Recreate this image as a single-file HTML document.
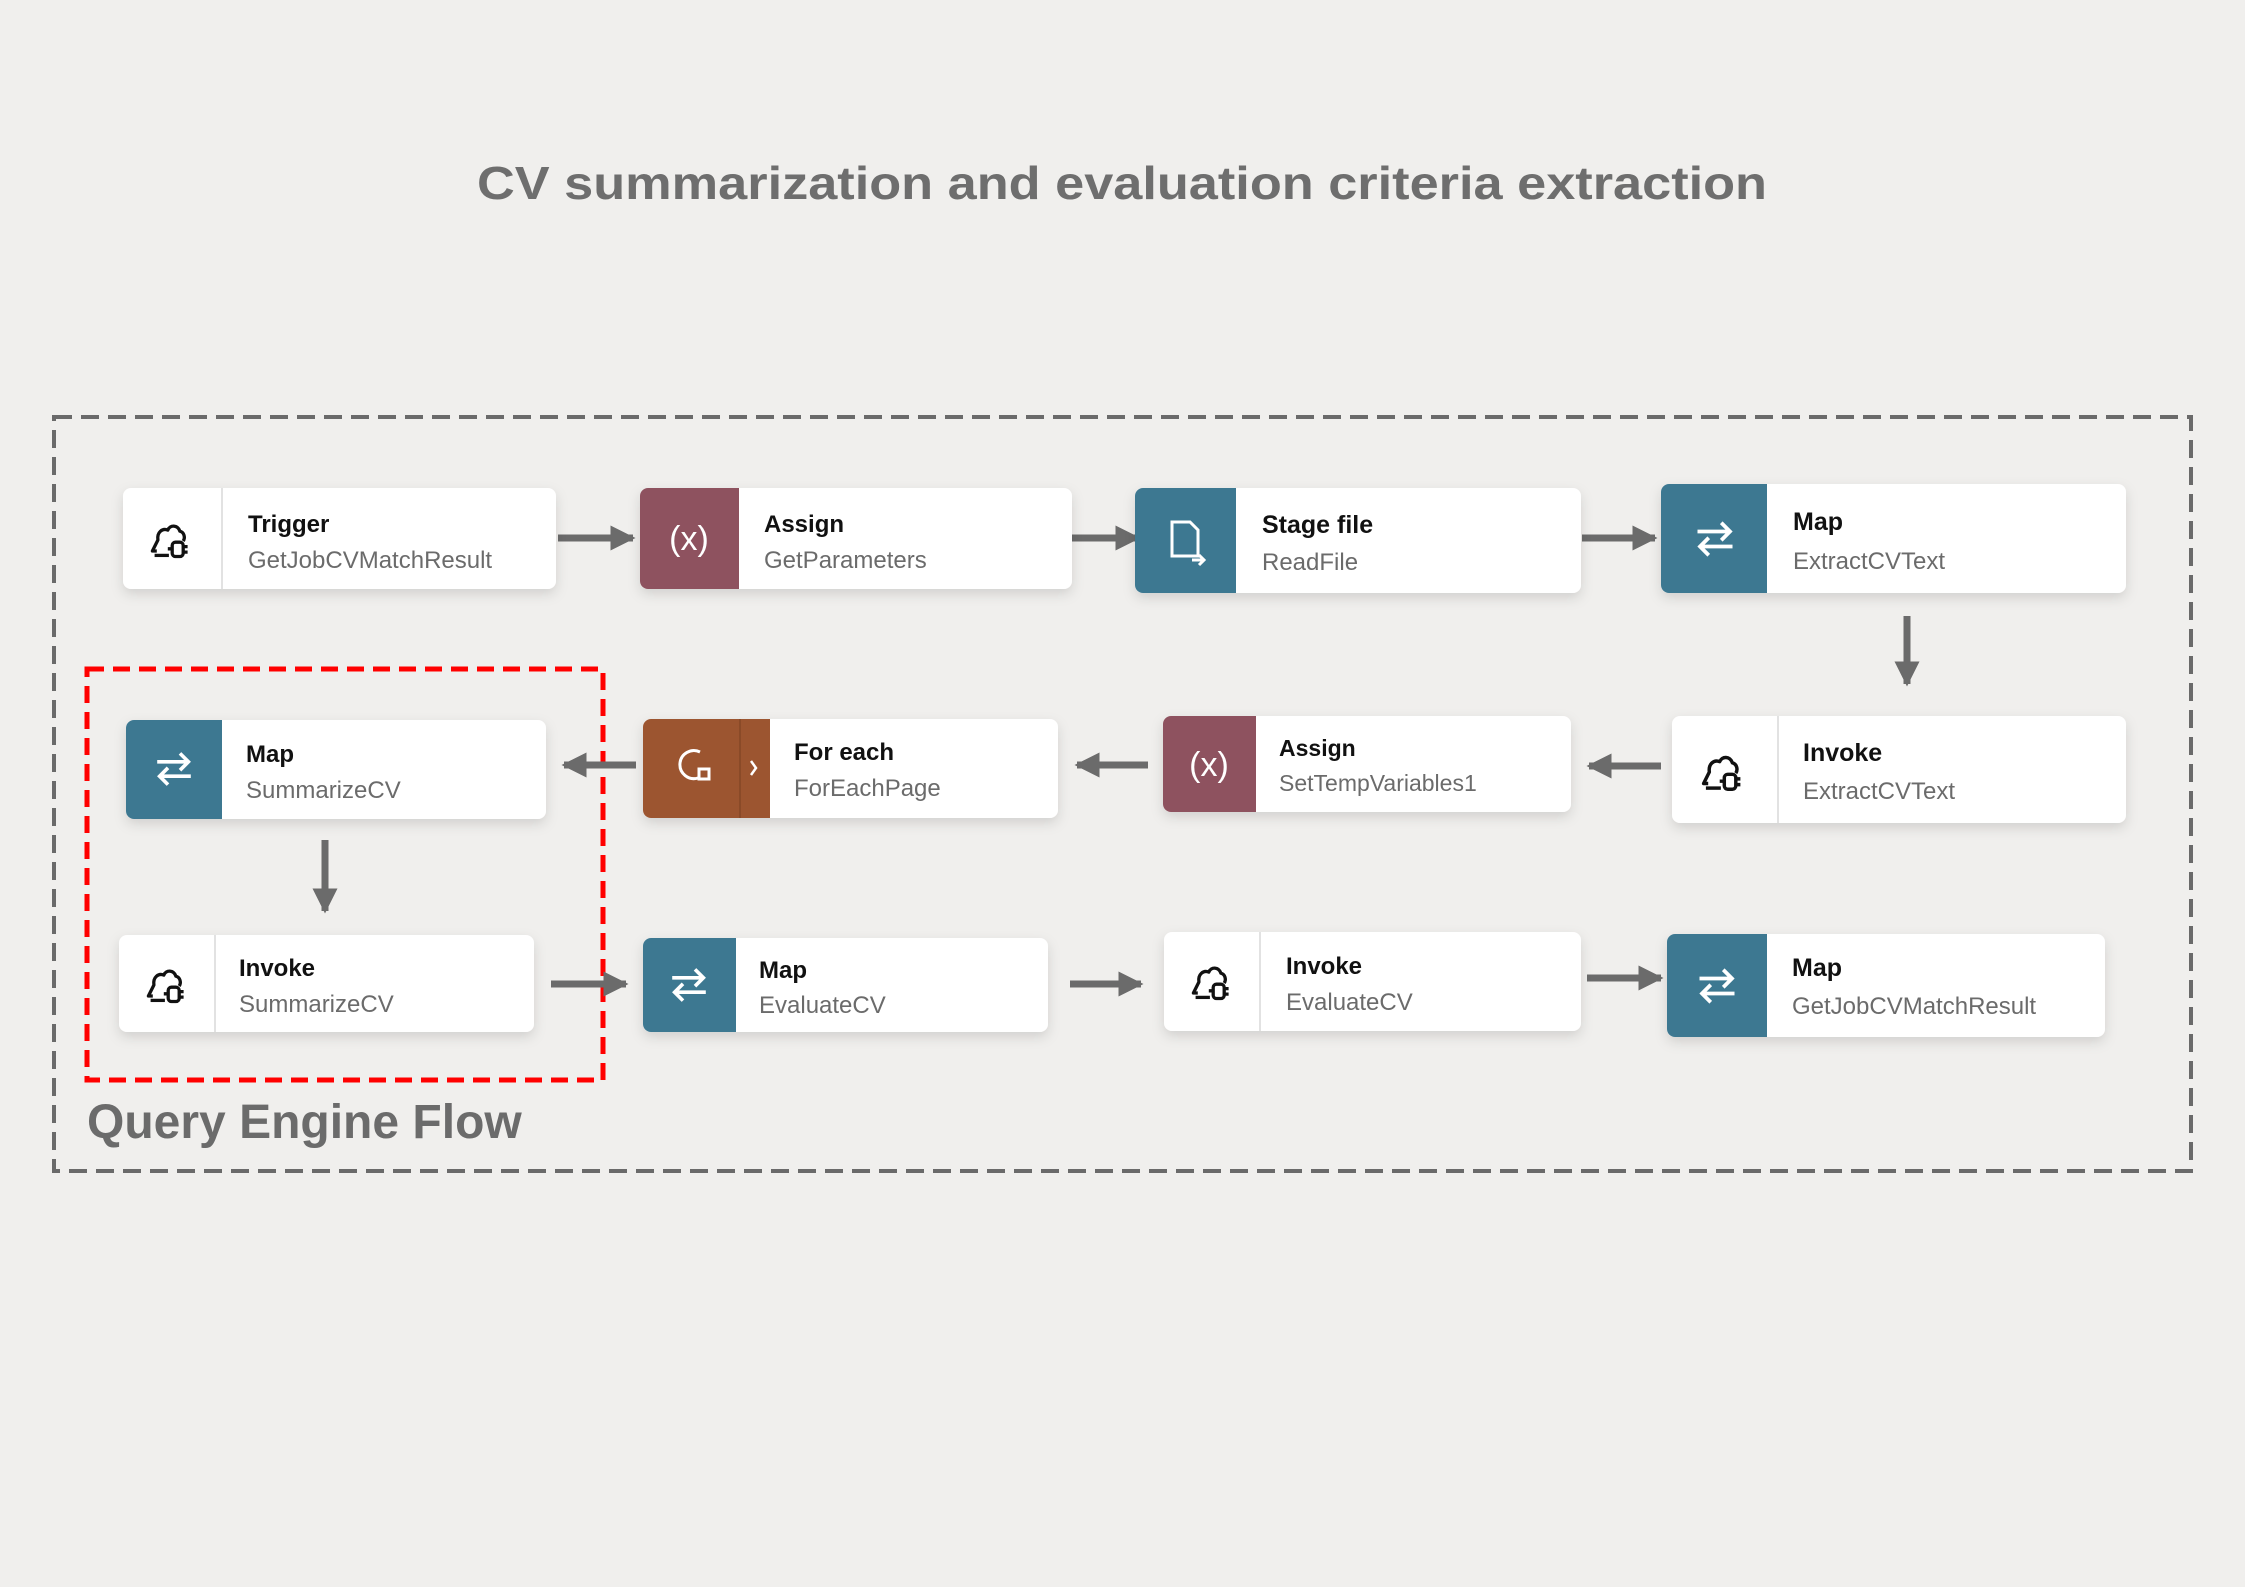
<!DOCTYPE html>
<html><head><meta charset="utf-8"><style>
html,body{margin:0;padding:0;background:#f0efed;}
svg{display:block;}
</style></head><body>
<svg width="2245" height="1587" viewBox="0 0 2245 1587" xmlns="http://www.w3.org/2000/svg" font-family="'Liberation Sans', sans-serif">
<defs>
<filter id="sh" x="-10%" y="-20%" width="120%" height="160%"><feDropShadow dx="0" dy="5" stdDeviation="6" flood-color="#000" flood-opacity="0.13"/></filter>
<marker id="ah" viewBox="0 0 10 10" refX="9" refY="5" markerWidth="3.6" markerHeight="4.2" orient="auto" markerUnits="strokeWidth"><path d="M0,0 L10,5 L0,10 z" fill="#6b6b6b"/></marker>
<symbol id="cloud" viewBox="0 0 40 40"><path d="M8 30 L4 30 L9 20 C8 13 13 9 18 11 C20 6 27 6 29 12 C33 13 34 18 32 21" fill="none" stroke="#111" stroke-width="3" stroke-linejoin="round"/><path d="M6 34 L19 34" stroke="#111" stroke-width="3"/><rect x="22" y="22" width="10" height="13" rx="3" fill="none" stroke="#111" stroke-width="3"/><path d="M32 26 L36 26 M32 31 L36 31 M18 28 L22 28" stroke="#111" stroke-width="3"/></symbol>
<symbol id="map" viewBox="0 0 40 40"><path d="M6 14 L32 14 M25 7 L32 14 L25 21" fill="none" stroke="#fff" stroke-width="3"/><path d="M34 26 L8 26 M15 19 L8 26 L15 33" fill="none" stroke="#fff" stroke-width="3"/></symbol>
</defs>

<text x="1122" y="199" text-anchor="middle" font-size="46" font-weight="bold" fill="#6e6e6e" textLength="1290" lengthAdjust="spacingAndGlyphs">CV summarization and evaluation criteria extraction</text>

<rect x="54" y="417" width="2137" height="754" fill="none" stroke="#6a6a6a" stroke-width="4" stroke-dasharray="18 9"/>
<rect x="87" y="669" width="516" height="411" fill="none" stroke="#f00" stroke-width="5" stroke-dasharray="17 9"/>
<text x="87" y="1138" font-size="48" font-weight="bold" fill="#6b6b6b">Query Engine Flow</text>

<!-- arrows -->
<g stroke="#6b6b6b" stroke-width="7" marker-end="url(#ah)">
<line x1="558" y1="538" x2="633" y2="538"/>
<line x1="1067" y1="538" x2="1138" y2="538"/>
<line x1="1582" y1="538" x2="1655" y2="538"/>
<line x1="1907" y1="616" x2="1907" y2="684"/>
<line x1="1661" y1="766" x2="1589" y2="766"/>
<line x1="1148" y1="765" x2="1077" y2="765"/>
<line x1="636" y1="765" x2="564" y2="765"/>
<line x1="325" y1="840" x2="325" y2="911"/>
<line x1="551" y1="984" x2="626" y2="984"/>
<line x1="1070" y1="984" x2="1141" y2="984"/>
<line x1="1587" y1="978" x2="1661" y2="978"/>
</g>

<!-- Row 1 -->
<g>
<rect x="123" y="488" width="433" height="101" rx="8" fill="#fff" filter="url(#sh)"/>
<line x1="222" y1="488" x2="222" y2="589" stroke="#e2e2e2" stroke-width="2"/>
<use href="#cloud" x="148" y="518" width="44" height="44"/>
<text x="248" y="532" font-size="24" font-weight="bold" fill="#111">Trigger</text>
<text x="248" y="568" font-size="24" fill="#6b6b6b">GetJobCVMatchResult</text>
</g>
<g>
<rect x="640" y="488" width="432" height="101" rx="8" fill="#fff" filter="url(#sh)"/>
<path d="M648 488 H739 V589 H648 A8 8 0 0 1 640 581 V496 A8 8 0 0 1 648 488Z" fill="#8e525f"/>
<text x="689" y="550" text-anchor="middle" font-size="34" fill="#fff">(x)</text>
<text x="764" y="532" font-size="24" font-weight="bold" fill="#111">Assign</text>
<text x="764" y="568" font-size="24" fill="#6b6b6b">GetParameters</text>
</g>
<g>
<rect x="1135" y="488" width="446" height="105" rx="8" fill="#fff" filter="url(#sh)"/>
<path d="M1143 488 H1236 V593 H1143 A8 8 0 0 1 1135 585 V496 A8 8 0 0 1 1143 488Z" fill="#3d7891"/>
<path d="M1172 522 H1190 L1198 530 V556 H1172 Z" fill="none" stroke="#fff" stroke-width="3"/>
<path d="M1192 560 H1204 M1199 555 L1204 560 L1199 565" fill="none" stroke="#fff" stroke-width="3"/>
<text x="1262" y="533" font-size="25" font-weight="bold" fill="#111">Stage file</text>
<text x="1262" y="570" font-size="24" fill="#6b6b6b">ReadFile</text>
</g>
<g>
<rect x="1661" y="484" width="465" height="109" rx="8" fill="#fff" filter="url(#sh)"/>
<path d="M1669 484 H1767 V593 H1669 A8 8 0 0 1 1661 585 V492 A8 8 0 0 1 1669 484Z" fill="#3d7891"/>
<use href="#map" x="1690" y="514" width="50" height="50"/>
<text x="1793" y="530" font-size="25" font-weight="bold" fill="#111">Map</text>
<text x="1793" y="569" font-size="24" fill="#6b6b6b">ExtractCVText</text>
</g>

<!-- Row 2 -->
<g>
<rect x="126" y="720" width="420" height="99" rx="8" fill="#fff" filter="url(#sh)"/>
<path d="M134 720 H222 V819 H134 A8 8 0 0 1 126 811 V728 A8 8 0 0 1 134 720Z" fill="#3d7891"/>
<use href="#map" x="150" y="745" width="48" height="48"/>
<text x="246" y="762" font-size="24" font-weight="bold" fill="#111">Map</text>
<text x="246" y="798" font-size="24" fill="#6b6b6b">SummarizeCV</text>
</g>
<g>
<rect x="643" y="719" width="415" height="99" rx="8" fill="#fff" filter="url(#sh)"/>
<path d="M651 719 H770 V818 H651 A8 8 0 0 1 643 810 V727 A8 8 0 0 1 651 719Z" fill="#9c5530"/>
<line x1="740" y1="719" x2="740" y2="818" stroke="#8a4a28" stroke-width="2"/>
<path d="M700 752 A14 14 0 1 0 698 778" fill="none" stroke="#fff" stroke-width="3"/>
<rect x="699" y="769" width="10" height="10" fill="none" stroke="#fff" stroke-width="3"/>
<path d="M751 761 L756 768 L751 775" fill="none" stroke="#fff" stroke-width="2.5"/>
<text x="794" y="760" font-size="24" font-weight="bold" fill="#111">For each</text>
<text x="794" y="796" font-size="24" fill="#6b6b6b">ForEachPage</text>
</g>
<g>
<rect x="1163" y="716" width="408" height="96" rx="8" fill="#fff" filter="url(#sh)"/>
<path d="M1171 716 H1256 V812 H1171 A8 8 0 0 1 1163 804 V724 A8 8 0 0 1 1171 716Z" fill="#8e525f"/>
<text x="1209" y="776" text-anchor="middle" font-size="34" fill="#fff">(x)</text>
<text x="1279" y="756" font-size="23" font-weight="bold" fill="#111">Assign</text>
<text x="1279" y="791" font-size="23" fill="#6b6b6b">SetTempVariables1</text>
</g>
<g>
<rect x="1672" y="716" width="454" height="107" rx="8" fill="#fff" filter="url(#sh)"/>
<line x1="1778" y1="716" x2="1778" y2="823" stroke="#e2e2e2" stroke-width="2"/>
<use href="#cloud" x="1699" y="749" width="46" height="46"/>
<text x="1803" y="761" font-size="25" font-weight="bold" fill="#111">Invoke</text>
<text x="1803" y="799" font-size="24" fill="#6b6b6b">ExtractCVText</text>
</g>

<!-- Row 3 -->
<g>
<rect x="119" y="935" width="415" height="97" rx="8" fill="#fff" filter="url(#sh)"/>
<line x1="215" y1="935" x2="215" y2="1032" stroke="#e2e2e2" stroke-width="2"/>
<use href="#cloud" x="144" y="963" width="44" height="44"/>
<text x="239" y="976" font-size="24" font-weight="bold" fill="#111">Invoke</text>
<text x="239" y="1012" font-size="24" fill="#6b6b6b">SummarizeCV</text>
</g>
<g>
<rect x="643" y="938" width="405" height="94" rx="8" fill="#fff" filter="url(#sh)"/>
<path d="M651 938 H736 V1032 H651 A8 8 0 0 1 643 1024 V946 A8 8 0 0 1 651 938Z" fill="#3d7891"/>
<use href="#map" x="665" y="961" width="48" height="48"/>
<text x="759" y="978" font-size="24" font-weight="bold" fill="#111">Map</text>
<text x="759" y="1013" font-size="24" fill="#6b6b6b">EvaluateCV</text>
</g>
<g>
<rect x="1164" y="932" width="417" height="99" rx="8" fill="#fff" filter="url(#sh)"/>
<line x1="1260" y1="932" x2="1260" y2="1031" stroke="#e2e2e2" stroke-width="2"/>
<use href="#cloud" x="1189" y="960" width="44" height="44"/>
<text x="1286" y="974" font-size="24" font-weight="bold" fill="#111">Invoke</text>
<text x="1286" y="1010" font-size="24" fill="#6b6b6b">EvaluateCV</text>
</g>
<g>
<rect x="1667" y="934" width="438" height="103" rx="8" fill="#fff" filter="url(#sh)"/>
<path d="M1675 934 H1767 V1037 H1675 A8 8 0 0 1 1667 1029 V942 A8 8 0 0 1 1675 934Z" fill="#3d7891"/>
<use href="#map" x="1692" y="961" width="50" height="50"/>
<text x="1792" y="976" font-size="25" font-weight="bold" fill="#111">Map</text>
<text x="1792" y="1014" font-size="24" fill="#6b6b6b">GetJobCVMatchResult</text>
</g>
</svg>
</body></html>
